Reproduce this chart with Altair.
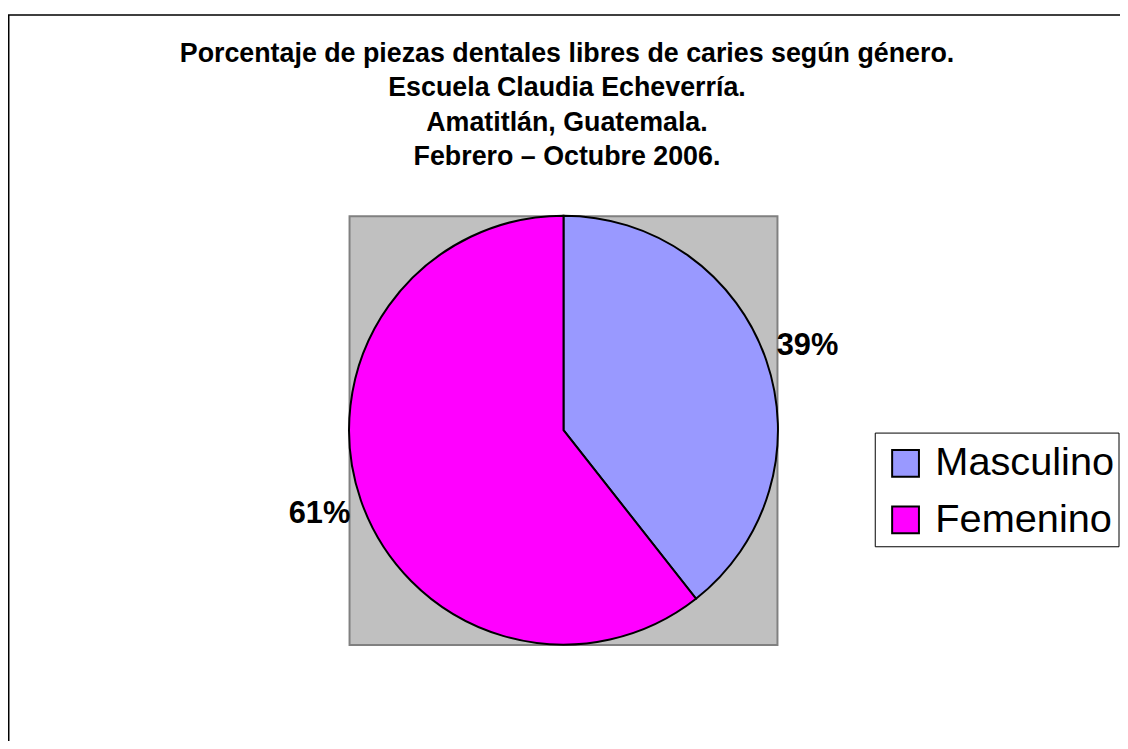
import altair as alt
import pandas as pd

# ---- data ----
CATEGORIES = ["Masculino", "Femenino"]
PERCENTS = [39.4, 60.6]          # slice sizes
LABELS = ["39%", "61%"]          # labels as printed
COLORS = ["#9999FF", "#FF00FF"]
TITLE_LINES = [
    "Porcentaje de piezas dentales libres de caries según género.",
    "Escuela Claudia Echeverría.",
    "Amatitlán, Guatemala.",
    "Febrero – Octubre 2006.",
]

df = pd.DataFrame({
    "cat": CATEGORIES,
    "value": PERCENTS,
    "label": LABELS,
    "idx": list(range(len(CATEGORIES))),
})

FONT = "Liberation Sans"
CX, CY, R = 559.5, 422.5, 216

one = alt.Data(values=[{"k": 1}])

# outer chart frame (right/bottom edges fall outside the picture)
frame = alt.Chart(one).mark_rect(fill="white", stroke="black", strokeWidth=1.5).encode(
    x=alt.value(0.75), x2=alt.value(1130), y=alt.value(4.5), y2=alt.value(760)
)

# grey plot area
plot_bg = alt.Chart(one).mark_rect(fill="#C0C0C0", stroke="#808080", strokeWidth=2).encode(
    x=alt.value(344), x2=alt.value(775), y=alt.value(207), y2=alt.value(639)
)

theta = alt.Theta("value:Q", stack=True)

pie = alt.Chart(df).mark_arc(outerRadius=R, stroke="black", strokeWidth=2).encode(
    theta=theta,
    order=alt.Order("idx:Q"),
    x=alt.value(CX),
    y=alt.value(CY),
    color=alt.Color(
        "cat:N",
        sort=CATEGORIES,
        scale=alt.Scale(domain=CATEGORIES, range=COLORS),
        legend=alt.Legend(
            orient="none",
            legendX=873,
            legendY=425,
            title=None,
            symbolType="square",
            symbolSize=729,
            symbolStrokeColor="black",
            symbolStrokeWidth=2,
            symbolOpacity=1,
            labelFont=FONT,
            labelFontSize=40,
            labelColor="black",
            labelOffset=10,
            rowPadding=17,
            padding=11,
            labelLimit=400,
        ),
    ),
)

pct = alt.Chart(df).mark_text(
    radius=260, font=FONT, fontSize=31, fontWeight="bold", color="black",
    align="center", baseline="middle",
).encode(
    theta=theta,
    order=alt.Order("idx:Q"),
    detail="cat:N",
    x=alt.value(CX),
    y=alt.value(CY),
    text="label:N",
)

legend_box = alt.Chart(one).mark_rect(fill="white", stroke="black", strokeWidth=1).encode(
    x=alt.value(873.5), x2=alt.value(1119), y=alt.value(425.5), y2=alt.value(540)
)

title = alt.Chart(one).mark_text(
    text=TITLE_LINES, font=FONT, fontSize=27, fontWeight="bold", color="black",
    align="center", baseline="alphabetic", lineHeight=34.5,
).encode(x=alt.value(563), y=alt.value(52))

chart = alt.layer(frame, plot_bg, pie, pct, legend_box, title).properties(
    width=1120, height=733, padding=0, autosize="none", background="white"
).configure_view(stroke="transparent")

chart.save("out.html", embed_options={"renderer": "svg", "actions": False})
